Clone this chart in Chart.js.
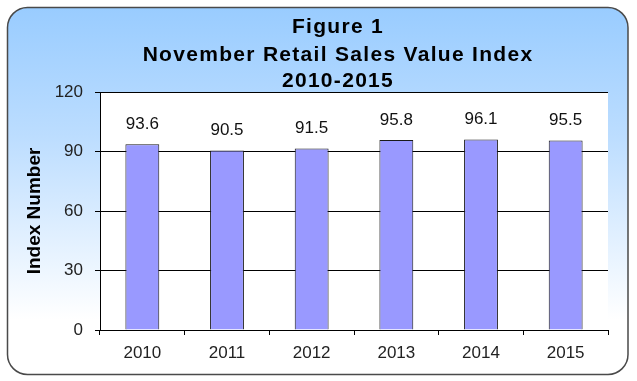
<!DOCTYPE html>
<html>
<head>
<meta charset="utf-8">
<script src="https://cdn.jsdelivr.net/npm/chart.js@4"></script>
<style>
  html, body { margin: 0; padding: 0; background: #fff; }
  #wrap { width: 637px; height: 381px; }
</style>
</head>
<body>
<div id="wrap"><canvas id="chart" width="637" height="381"></canvas></div>
<script>
// chart data
const years = ['2010', '2011', '2012', '2013', '2014', '2015'];
const indexValues = [93.6, 90.5, 91.5, 95.8, 96.1, 95.5];
const titleLines = ['Figure 1', 'November Retail Sales Value Index', '2010-2015'];
const yAxisTitle = 'Index Number';
const yTicks = [0, 30, 60, 90, 120];

const FONT = '"Liberation Sans", Arial, sans-serif';

// rounded blue panel behind everything
const panelBackground = {
  id: 'panelBackground',
  beforeDraw(chart) {
    const ctx = chart.ctx;
    const x = 7.5, y = 7.5, w = 620.5, h = 367, r = 20;
    ctx.save();
    const grad = ctx.createLinearGradient(0, y, 0, y + h);
    grad.addColorStop(0, '#99CCFF');
    grad.addColorStop(0.35, '#BCDDFF');
    grad.addColorStop(0.85, '#FFFFFF');
    grad.addColorStop(1, '#FFFFFF');
    ctx.beginPath();
    ctx.roundRect(x, y, w, h, r);
    ctx.fillStyle = grad;
    ctx.fill();
    ctx.lineWidth = 1.5;
    ctx.strokeStyle = '#4a4a4a';
    ctx.stroke();
    // white plot area
    const a = chart.chartArea;
    ctx.fillStyle = '#ffffff';
    ctx.fillRect(a.left, a.top, a.right - a.left, a.bottom - a.top);
    ctx.restore();
  }
};

// three-line heading, slightly spaced out like the original
const heading = {
  id: 'heading',
  afterDraw(chart) {
    const ctx = chart.ctx;
    const baselines = [33, 61, 87];
    ctx.save();
    ctx.font = 'bold 21px ' + FONT;
    ctx.letterSpacing = '1.3px';
    ctx.fillStyle = '#000';
    ctx.textAlign = 'center';
    ctx.textBaseline = 'alphabetic';
    titleLines.forEach((line, i) => {
      ctx.fillText(line, 338, baselines[i]);
    });
    ctx.restore();
  }
};

// value labels above each bar
const valueLabels = {
  id: 'valueLabels',
  afterDatasetsDraw(chart) {
    const ctx = chart.ctx;
    const meta = chart.getDatasetMeta(0);
    ctx.save();
    ctx.font = '17px ' + FONT;
    ctx.fillStyle = '#111';
    ctx.textAlign = 'center';
    ctx.textBaseline = 'middle';
    meta.data.forEach((bar, i) => {
      ctx.fillText(indexValues[i].toFixed(1), bar.x, bar.y - 20);
    });
    ctx.restore();
  }
};

new Chart(document.getElementById('chart'), {
  type: 'bar',
  data: {
    labels: years,
    datasets: [{
      data: indexValues,
      backgroundColor: '#9999FF',
      borderColor: '#1a1a1a',
      borderWidth: 1,
      barPercentage: 0.4,
      categoryPercentage: 1
    }]
  },
  options: {
    responsive: false,
    animation: false,
    layout: { padding: { left: 0, right: 29, top: 92, bottom: 0 } },
    plugins: {
      legend: { display: false },
      tooltip: { enabled: false },
      title: { display: false }
    },
    scales: {
      x: {
        grid: { drawOnChartArea: false, drawTicks: true, tickLength: 5, color: '#000', offset: true },
        border: { color: '#000', width: 1 },
        ticks: { color: '#222', font: { family: FONT, size: 17 }, padding: 8 },
        afterFit(scale) { scale.height = 51; }
      },
      y: {
        min: 0,
        max: 120,
        afterBuildTicks(scale) { scale.ticks = yTicks.map(v => ({ value: v })); },
        grid: { color: '#000', lineWidth: 1, tickLength: 5 },
        border: { color: '#000', width: 1 },
        ticks: { color: '#222', font: { family: FONT, size: 17 }, padding: 12 },
        title: {
          display: true,
          text: yAxisTitle,
          color: '#000',
          font: { family: FONT, size: 19, weight: 'bold' },
          padding: { top: 23 }
        },
        afterFit(scale) { scale.width = 100; }
      }
    }
  },
  plugins: [panelBackground, heading, valueLabels]
});
</script>
</body>
</html>
